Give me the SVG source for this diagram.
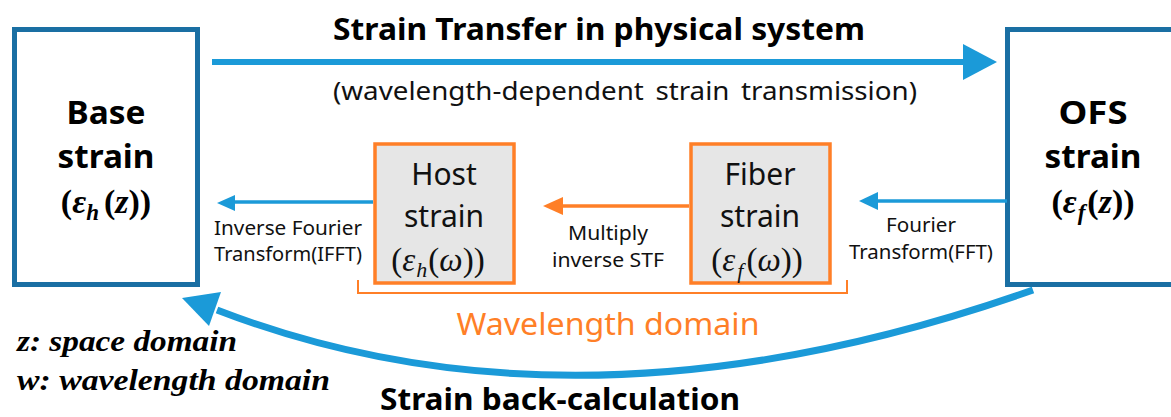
<svg xmlns="http://www.w3.org/2000/svg" width="1171" height="417" viewBox="0 0 1171 417">
  <style>
    .bigbox { fill: #ffffff; stroke: #1a6fa3; stroke-width: 5; }
    .fbox { fill: #e6e6e6; stroke: #ff7f27; stroke-width: 3.5; }
    .sans { font-family: "Noto Sans", "Liberation Sans", sans-serif; }
    .bold { font-weight: bold; }
    .math { font-family: "Liberation Serif", "DejaVu Serif", serif; }
    .blue-line { stroke: #1b9ad8; fill: none; }
    .blue-head { fill: #1b9ad8; }
    .orange-line { stroke: #ff7f27; fill: none; }
    .orange-head { fill: #ff7f27; }
    .lbl { font-size: 19px; fill: #111; }
  </style>

  <g id="title">
    <text x="599" y="40" text-anchor="middle" class="sans bold" font-size="30" fill="#000" textLength="532" lengthAdjust="spacingAndGlyphs">Strain Transfer in physical system</text>
    <text x="625" y="100" text-anchor="middle" class="sans" font-size="25" fill="#111" word-spacing="4" textLength="584" lengthAdjust="spacingAndGlyphs">(wavelength-dependent strain transmission)</text>
  </g>

  <g id="base-strain">
    <rect class="bigbox" x="14.5" y="29.5" width="183" height="255"/>
    <text x="106" y="124" text-anchor="middle" class="sans bold" font-size="32" fill="#000" textLength="79" lengthAdjust="spacingAndGlyphs">Base</text>
    <text x="106" y="168" text-anchor="middle" class="sans bold" font-size="32" fill="#000" textLength="97" lengthAdjust="spacingAndGlyphs">strain</text>
    <text x="106" y="213" text-anchor="middle" class="math bold" font-size="34" fill="#000">(<tspan font-style="italic">ε</tspan><tspan font-style="italic" font-size="23" dy="7">h</tspan><tspan dy="-7" dx="5">(</tspan><tspan font-style="italic">z</tspan>))</text>
  </g>

  <g id="ofs-strain">
    <rect class="bigbox" x="1007.5" y="29.5" width="200" height="255"/>
    <text x="1093" y="124" text-anchor="middle" class="sans bold" font-size="32" fill="#000" textLength="69" lengthAdjust="spacingAndGlyphs">OFS</text>
    <text x="1093" y="168" text-anchor="middle" class="sans bold" font-size="32" fill="#000" textLength="97" lengthAdjust="spacingAndGlyphs">strain</text>
    <text x="1093" y="213" text-anchor="middle" class="math bold" font-size="34" fill="#000">(<tspan font-style="italic">ε</tspan><tspan font-style="italic" font-size="23" dy="7" dx="1">f</tspan><tspan dy="-7" dx="2">(</tspan><tspan font-style="italic">z</tspan>))</text>
  </g>

  <g id="host-strain">
    <rect class="fbox" x="375" y="144" width="139" height="139"/>
    <text x="444" y="185" text-anchor="middle" class="sans" font-size="30" fill="#111">Host</text>
    <text x="444" y="227" text-anchor="middle" class="sans" font-size="30" fill="#111">strain</text>
    <text x="438" y="271" text-anchor="middle" class="math" font-size="33" fill="#111">(<tspan font-style="italic">ε</tspan><tspan font-style="italic" font-size="22" dy="6" dx="1">h</tspan><tspan dy="-6" dx="1">(</tspan><tspan font-style="italic">ω</tspan>))</text>
  </g>

  <g id="fiber-strain">
    <rect class="fbox" x="691" y="144" width="139" height="139"/>
    <text x="760" y="185" text-anchor="middle" class="sans" font-size="30" fill="#111">Fiber</text>
    <text x="760" y="227" text-anchor="middle" class="sans" font-size="30" fill="#111">strain</text>
    <text x="757" y="271" text-anchor="middle" class="math" font-size="33" fill="#111">(<tspan font-style="italic">ε</tspan><tspan font-style="italic" font-size="22" dy="7" dx="2">f</tspan><tspan dy="-7" dx="3">(</tspan><tspan font-style="italic">ω</tspan>))</text>
  </g>

  <g id="wavelength-domain">
    <path d="M358,280 V293 H847 V280" fill="none" stroke="#ff7f27" stroke-width="2"/>
    <text x="608" y="335" text-anchor="middle" class="sans" font-size="31" fill="#ff7f27" textLength="303" lengthAdjust="spacingAndGlyphs">Wavelength domain</text>
  </g>

  <g id="legend">
    <text x="17" y="351" class="math bold" font-style="italic" font-size="30" fill="#000" textLength="220" lengthAdjust="spacingAndGlyphs">z: space domain</text>
    <text x="17" y="390" class="math bold" font-style="italic" font-size="30" fill="#000" textLength="313" lengthAdjust="spacingAndGlyphs">w: wavelength domain</text>
  </g>

  <g id="connectors">
    <line class="blue-line" x1="212" y1="62" x2="965" y2="62" stroke-width="6"/>
    <polygon class="blue-head" points="997,62 963,44 963,80"/>

    <line class="blue-line" x1="1007" y1="201" x2="875" y2="201" stroke-width="3.5"/>
    <polygon class="blue-head" points="859,201 878,192 878,210"/>

    <line class="orange-line" x1="689" y1="206" x2="561" y2="206" stroke-width="3.5"/>
    <polygon class="orange-head" points="543,206 563,197 563,215"/>

    <line class="blue-line" x1="373" y1="202" x2="233" y2="202" stroke-width="3.5"/>
    <polygon class="blue-head" points="217,203 235,195 235,211"/>

    <path class="blue-line" d="M1033,290 Q580,450 217,310" stroke-width="7"/>
    <polygon class="blue-head" points="182,298 221,292 209,326"/>
  </g>

  <g id="labels">
    <text x="288" y="235" text-anchor="middle" class="sans lbl" textLength="148" lengthAdjust="spacingAndGlyphs">Inverse Fourier</text>
    <text x="288" y="261" text-anchor="middle" class="sans lbl" textLength="148" lengthAdjust="spacingAndGlyphs">Transform(IFFT)</text>
    <text x="608" y="240" text-anchor="middle" class="sans lbl" textLength="80" lengthAdjust="spacingAndGlyphs">Multiply</text>
    <text x="608" y="267" text-anchor="middle" class="sans lbl" textLength="112" lengthAdjust="spacingAndGlyphs">inverse STF</text>
    <text x="921" y="232" text-anchor="middle" class="sans lbl" textLength="70" lengthAdjust="spacingAndGlyphs">Fourier</text>
    <text x="921" y="259" text-anchor="middle" class="sans lbl" textLength="144" lengthAdjust="spacingAndGlyphs">Transform(FFT)</text>
    <text x="560" y="410" text-anchor="middle" class="sans bold" font-size="30" fill="#000" textLength="360" lengthAdjust="spacingAndGlyphs">Strain back-calculation</text>
  </g>
</svg>
